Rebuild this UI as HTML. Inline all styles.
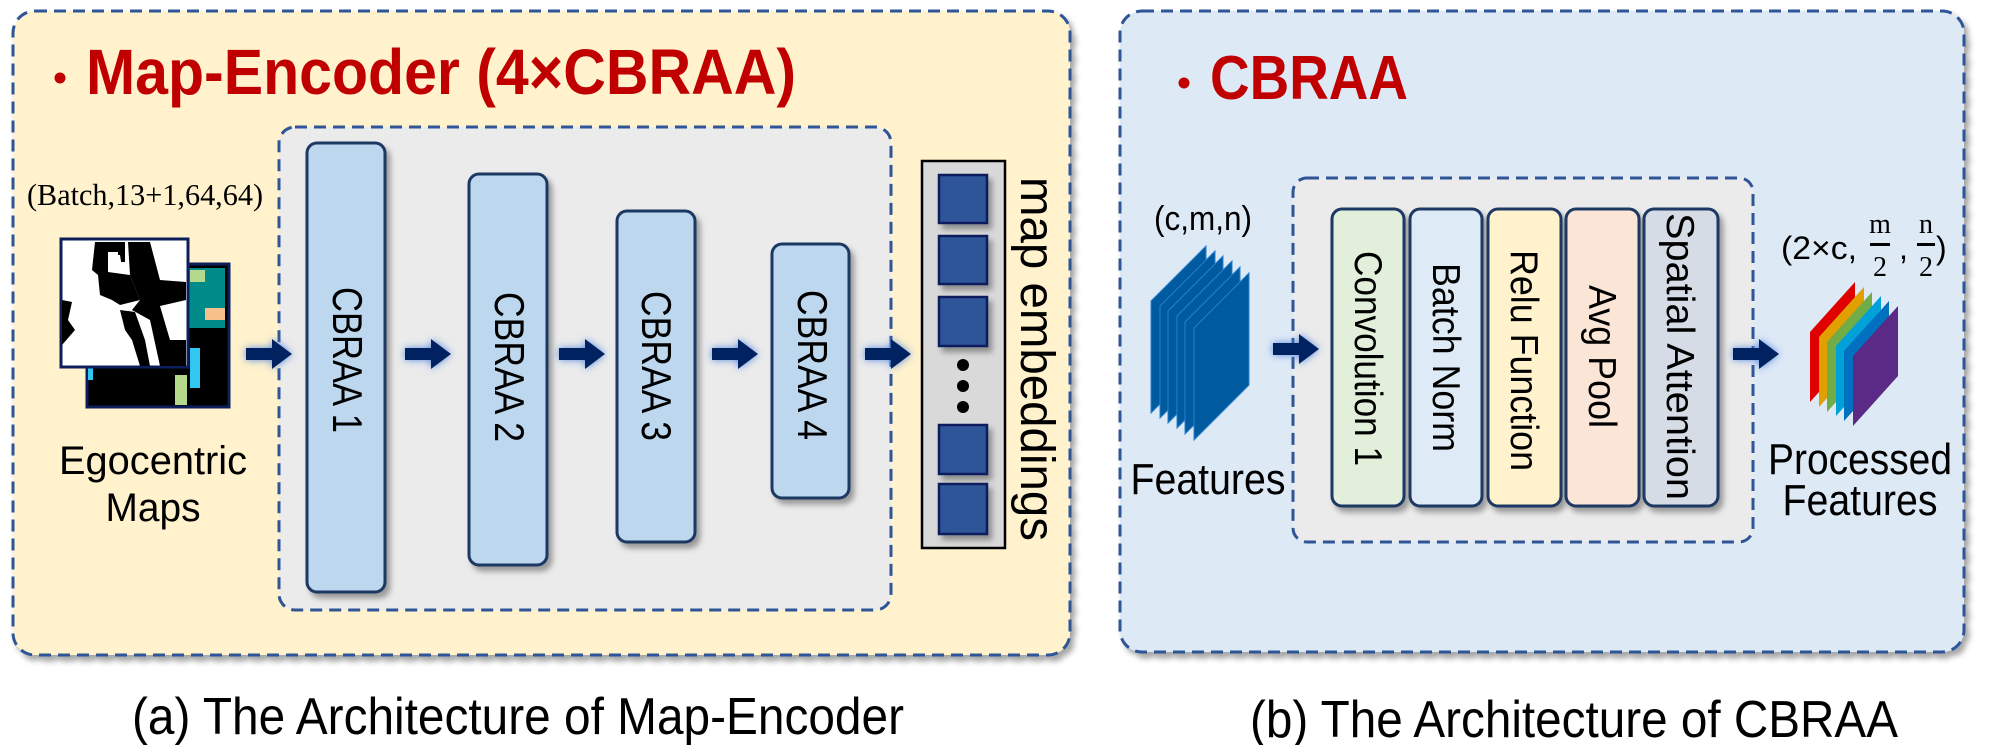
<!DOCTYPE html>
<html><head><meta charset="utf-8"><style>html,body{margin:0;padding:0;background:#fff}svg{display:block}</style></head>
<body>
<svg width="1991" height="745" viewBox="0 0 1991 745" xmlns="http://www.w3.org/2000/svg" font-family="Liberation Sans, sans-serif">
<defs>
<filter id="sh" x="-20%" y="-20%" width="150%" height="150%"><feDropShadow dx="4" dy="5" stdDeviation="3" flood-color="#000" flood-opacity="0.35"/></filter>
<filter id="glow" x="-50%" y="-80%" width="200%" height="260%"><feDropShadow dx="0" dy="0" stdDeviation="4" flood-color="#4a7fe0" flood-opacity="0.9"/></filter>
<g id="arr"><path d="M0,-6 L26,-6 L26,-15 L46,0 L26,15 L26,6 L0,6 Z" fill="#002060" filter="url(#glow)"/></g>
</defs>
<!-- Left panel -->
<rect x="13" y="11" width="1057" height="644" rx="22" fill="#fff2cc" stroke="#2f5597" stroke-width="3" stroke-dasharray="12,7" filter="url(#sh)"/>
<circle cx="60" cy="78" r="5.5" fill="#c00000"/>
<text x="86" y="94" font-size="64" font-weight="bold" fill="#c00000" textLength="710" lengthAdjust="spacingAndGlyphs">Map-Encoder (4×CBRAA)</text>
<rect x="279" y="127" width="612" height="483" rx="16" fill="#ebebeb" stroke="#2f5597" stroke-width="3" stroke-dasharray="12,7"/>
<text x="27" y="205" font-family="Liberation Serif, serif" font-size="31" textLength="236" lengthAdjust="spacingAndGlyphs">(Batch,13+1,64,64)</text>
<!-- maps -->
<rect x="87" y="264" width="142" height="143" fill="#000" stroke="#0c1f5c" stroke-width="3"/>
<rect x="185" y="268" width="40" height="60" fill="#008b8b"/>
<rect x="190" y="270" width="15" height="12" fill="#b5d98a"/>
<rect x="205" y="308" width="20" height="12" fill="#f5c08a"/>
<rect x="190" y="348" width="10" height="40" fill="#30c8f0"/>
<rect x="175" y="375" width="12" height="30" fill="#b5d98a"/>
<rect x="88" y="365" width="5" height="15" fill="#30c8f0"/>
<rect x="61" y="239" width="127" height="128" fill="#fff" stroke="#0c1f5c" stroke-width="3"/>
<path d="M95,242 L125,242 L125,262 L118,262 L118,252 L108,252 L108,272 L130,275 L140,300 L120,305 L112,300 L100,295 L98,275 L92,270 Z" fill="#000"/>
<path d="M128,242 L150,242 L160,280 L186,282 L186,300 L160,306 L170,340 L186,340 L186,366 L160,366 L150,320 L132,310 L140,300 L130,275 Z" fill="#000"/>
<path d="M62,300 L72,302 L68,320 L75,330 L62,345 Z" fill="#000"/>
<path d="M120,310 L135,312 L145,340 L150,366 L140,366 L132,340 L125,330 Z" fill="#000"/>
<path d="M110,255 L120,255 L122,268 L112,268 Z" fill="#fff"/>
<text x="153" y="474" font-size="40" text-anchor="middle" textLength="188" lengthAdjust="spacingAndGlyphs">Egocentric</text>
<text x="153" y="521" font-size="40" text-anchor="middle" textLength="95" lengthAdjust="spacingAndGlyphs">Maps</text>
<!-- CBRAA boxes -->
<g fill="#bdd7ee" stroke="#1f3864" stroke-width="3" filter="url(#sh)">
<rect x="307" y="143" width="78" height="449" rx="10"/>
<rect x="469" y="174" width="78" height="391" rx="10"/>
<rect x="617" y="211" width="78" height="331" rx="10"/>
<rect x="772" y="244" width="77" height="254" rx="10"/>
</g>
<g font-size="42" fill="#000">
<text transform="translate(333,287) rotate(90)" textLength="146" lengthAdjust="spacingAndGlyphs">CBRAA 1</text>
<text transform="translate(495,292) rotate(90)" textLength="150" lengthAdjust="spacingAndGlyphs">CBRAA 2</text>
<text transform="translate(642,291) rotate(90)" textLength="150" lengthAdjust="spacingAndGlyphs">CBRAA 3</text>
<text transform="translate(798,290) rotate(90)" textLength="150" lengthAdjust="spacingAndGlyphs">CBRAA 4</text>
</g>
<use href="#arr" x="246" y="354"/>
<use href="#arr" x="405" y="354"/>
<use href="#arr" x="559" y="354"/>
<use href="#arr" x="712" y="354"/>
<use href="#arr" x="865" y="354"/>
<!-- embeddings -->
<rect x="922" y="161" width="83" height="387" fill="#d9d9d9" stroke="#000" stroke-width="2.5"/>
<g fill="#2f5597" stroke="#0c1f5c" stroke-width="2.5" filter="url(#sh)">
<rect x="939" y="175" width="48" height="48"/>
<rect x="939" y="236" width="48" height="48"/>
<rect x="939" y="297" width="48" height="49"/>
<rect x="939" y="425" width="48" height="49"/>
<rect x="939" y="484" width="48" height="50"/>
</g>
<circle cx="963" cy="365" r="6" fill="#000"/><circle cx="963" cy="386" r="6" fill="#000"/><circle cx="963" cy="407" r="6" fill="#000"/>
<text transform="translate(1021,177) rotate(90)" font-size="48" textLength="364" lengthAdjust="spacingAndGlyphs">map embeddings</text>
<text x="518" y="734" font-size="52" text-anchor="middle" textLength="772" lengthAdjust="spacingAndGlyphs">(a) The Architecture of Map-Encoder</text>

<!-- Right panel -->
<rect x="1120" y="11" width="844" height="641" rx="22" fill="#dee9f6" stroke="#2f5597" stroke-width="3" stroke-dasharray="12,7" filter="url(#sh)"/>
<circle cx="1184" cy="83" r="5.5" fill="#c00000"/>
<text x="1210" y="99" font-size="62" font-weight="bold" fill="#c00000" textLength="198" lengthAdjust="spacingAndGlyphs">CBRAA</text>
<rect x="1293" y="178" width="460" height="364" rx="14" fill="#ebebeb" stroke="#2f5597" stroke-width="3" stroke-dasharray="12,7"/>
<text x="1203" y="230" font-size="34" text-anchor="middle" textLength="98" lengthAdjust="spacingAndGlyphs">(c,m,n)</text>
<g fill="#005a9e" stroke="#2a7fd0" stroke-width="1">
<path d="M1151,301 L1206,246 L1206,358 L1151,413 Z"/>
<path d="M1160,306 L1215,251 L1215,363 L1160,418 Z"/>
<path d="M1168,311 L1223,256 L1223,368 L1168,423 Z"/>
<path d="M1177,316 L1232,261 L1232,373 L1177,428 Z"/>
<path d="M1185,322 L1240,267 L1240,379 L1185,434 Z"/>
<path d="M1194,328 L1249,273 L1249,385 L1194,440 Z"/>
</g>
<text x="1208" y="494" font-size="44" text-anchor="middle" textLength="155" lengthAdjust="spacingAndGlyphs">Features</text>
<use href="#arr" x="1273" y="349"/>
<g stroke="#1f3864" stroke-width="3" filter="url(#sh)">
<rect x="1332" y="209" width="72" height="297" rx="10" fill="#e2efda"/>
<rect x="1410" y="209" width="72" height="297" rx="10" fill="#deebf7"/>
<rect x="1488" y="209" width="73" height="297" rx="10" fill="#fff2cc"/>
<rect x="1566" y="209" width="73" height="297" rx="10" fill="#fbe5d6"/>
<rect x="1644" y="209" width="74" height="297" rx="10" fill="#d6dce5"/>
</g>
<g font-size="39">
<text transform="translate(1355,251) rotate(90)" textLength="215" lengthAdjust="spacingAndGlyphs">Convolution 1</text>
<text transform="translate(1433,263) rotate(90)" textLength="189" lengthAdjust="spacingAndGlyphs">Batch Norm</text>
<text transform="translate(1511,250) rotate(90)" textLength="221" lengthAdjust="spacingAndGlyphs">Relu Function</text>
<text transform="translate(1589,285) rotate(90)" textLength="143" lengthAdjust="spacingAndGlyphs">Avg Pool</text>
<text transform="translate(1667,213) rotate(90)" textLength="287" lengthAdjust="spacingAndGlyphs">Spatial Attention</text>
</g>
<use href="#arr" x="1733" y="354"/>
<text x="1781" y="259" font-size="32" textLength="76" lengthAdjust="spacingAndGlyphs">(2×c,</text>
<g font-family="Liberation Serif, serif" font-size="28" text-anchor="middle">
<text x="1880" y="233">m</text><text x="1880" y="276">2</text>
<text x="1926" y="233">n</text><text x="1926" y="276">2</text>
</g>
<rect x="1870" y="243" width="20" height="3" fill="#000"/>
<rect x="1917" y="243" width="18" height="3" fill="#000"/>
<text x="1899" y="259" font-size="32">,</text>
<text x="1936" y="259" font-size="32">)</text>
<path d="M1810,332 L1855,282 L1855,352 L1810,402 Z" fill="#e00000"/>
<path d="M1819,337 L1864,287 L1864,357 L1819,407 Z" fill="#e0a000"/>
<path d="M1827,342 L1872,292 L1872,362 L1827,412 Z" fill="#70ad47"/>
<path d="M1836,346 L1881,296 L1881,366 L1836,416 Z" fill="#00a0d8"/>
<path d="M1844,351 L1889,301 L1889,371 L1844,421 Z" fill="#0070c0"/>
<path d="M1853,356 L1898,306 L1898,376 L1853,426 Z" fill="#5b2a86"/>
<text x="1860" y="474" font-size="44" text-anchor="middle" textLength="184" lengthAdjust="spacingAndGlyphs">Processed</text>
<text x="1860" y="515" font-size="44" text-anchor="middle" textLength="155" lengthAdjust="spacingAndGlyphs">Features</text>
<text x="1574" y="737" font-size="52" text-anchor="middle" textLength="648" lengthAdjust="spacingAndGlyphs">(b) The Architecture of CBRAA</text>
</svg>
</body></html>
